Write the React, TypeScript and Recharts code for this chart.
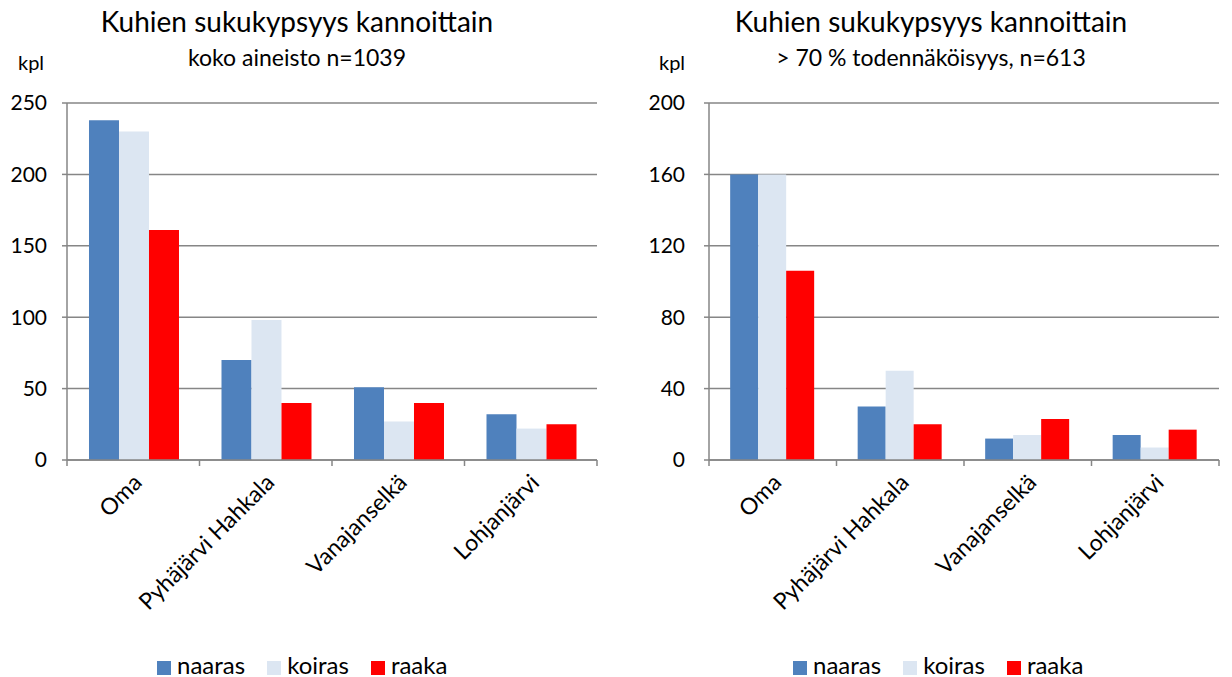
import { Bar, BarChart, CartesianGrid, Legend, XAxis, YAxis } from 'recharts'

const categories = ['Oma', 'Pyhäjärvi Hahkala', 'Vanajanselkä', 'Lohjanjärvi']
const seriesOrder = ['naaras', 'koiras', 'raaka']

// koko aineisto n=1039
const allNaaras = [238, 70, 51, 32]
const allKoiras = [230, 98, 27, 22]
const allRaaka = [161, 40, 40, 25]
const allTicks = [0, 50, 100, 150, 200, 250]

// > 70 % todennäköisyys, n=613
const probNaaras = [160, 30, 12, 14]
const probKoiras = [160, 50, 14, 7]
const probRaaka = [106, 20, 23, 17]
const probTicks = [0, 40, 80, 120, 160, 200]

const COLORS = {
  naaras: '#4f81bd',
  koiras: '#dce6f2',
  raaka: '#ff0000',
  axis: '#868686',
} as const

const FONT = 'Lato, "Open Sans", sans-serif'

function buildRows(n: number[], k: number[], r: number[]) {
  return categories.map((name, i) => ({
    name,
    naaras: n[i],
    koiras: k[i],
    raaka: r[i],
  }))
}

// Excel style: tick marks sit between categories, labels at 45 degrees
function CategoryTick(props: any) {
  const { x, y, payload, index, visibleTicksCount } = props
  const half = payload?.offset ?? 66
  const last = index === visibleTicksCount - 1
  const ax = x + 10
  const ay = y + 24
  return (
    <g>
      <line x1={x - half} x2={x - half} y1={y} y2={y + 6} stroke={COLORS.axis} strokeWidth={1.5} />
      {last && (
        <line x1={x + half} x2={x + half} y1={y} y2={y + 6} stroke={COLORS.axis} strokeWidth={1.5} />
      )}
      <text
        x={ax}
        y={ay}
        textAnchor="end"
        fontSize={23}
        fontFamily={FONT}
        fill="#000"
        transform={`rotate(-45 ${ax} ${ay})`}
      >
        {payload.value}
      </text>
    </g>
  )
}

type PanelProps = {
  left: number
  title: string
  subtitle: string
  titleCenter: number
  kplX: number
  legendLeft: number
  rows: ReturnType<typeof buildRows>
  ticks: number[]
  marginLeft: number
  marginRight: number
  tickMargin: number
}

function Panel(p: PanelProps) {
  const max = p.ticks[p.ticks.length - 1]
  return (
    <div style={{ position: 'absolute', left: p.left, top: 0, width: 616, height: 677 }}>
      <div
        style={{
          position: 'absolute',
          left: p.titleCenter - 300,
          width: 600,
          top: 4,
          textAlign: 'center',
          fontFamily: FONT,
          fontSize: 28,
          lineHeight: '34px',
          color: '#000',
        }}
      >
        {p.title}
      </div>
      <div
        style={{
          position: 'absolute',
          left: p.titleCenter - 300,
          width: 600,
          top: 42,
          textAlign: 'center',
          fontFamily: FONT,
          fontSize: 23,
          lineHeight: '30px',
          color: '#000',
        }}
      >
        {p.subtitle}
      </div>
      <div
        style={{
          position: 'absolute',
          left: p.kplX,
          top: 50,
          fontFamily: FONT,
          fontSize: 20,
          lineHeight: '24px',
          color: '#000',
        }}
      >
        kpl
      </div>
      <BarChart
        width={616}
        height={677}
        data={p.rows}
        margin={{ top: 103, right: p.marginRight, left: p.marginLeft, bottom: 8 }}
        barCategoryGap="16.6%"
        barGap={0}
      >
        <CartesianGrid vertical={false} stroke={COLORS.axis} strokeWidth={1.5} />
        <XAxis
          dataKey="name"
          interval={0}
          height={179}
          tickSize={0}
          tickMargin={0}
          tickLine={false}
          axisLine={{ stroke: COLORS.axis, strokeWidth: 1.5 }}
          tick={<CategoryTick />}
        />
        <YAxis
          width={60}
          domain={[0, max]}
          ticks={p.ticks}
          interval={0}
          tickSize={5}
          tickMargin={p.tickMargin}
          axisLine={{ stroke: COLORS.axis, strokeWidth: 1.5 }}
          tickLine={{ stroke: COLORS.axis, strokeWidth: 1.5 }}
          tick={{ fontSize: 21, fontFamily: FONT, fill: '#000' }}
        />
        <Legend
          verticalAlign="bottom"
          iconType="square"
          iconSize={14}
          itemSorter={(item: any) => seriesOrder.indexOf(item.dataKey)}
          wrapperStyle={{
            fontFamily: FONT,
            fontSize: 24,
            height: 30,
            lineHeight: '30px',
            top: 650,
            left: p.legendLeft,
            width: 'auto',
          }}
          formatter={(v) => (
            <span style={{ color: '#000', marginLeft: 2, marginRight: 12 }}>{v}</span>
          )}
        />
        <Bar dataKey="naaras" fill={COLORS.naaras} isAnimationActive={false} />
        <Bar dataKey="koiras" fill={COLORS.koiras} isAnimationActive={false} />
        <Bar dataKey="raaka" fill={COLORS.raaka} isAnimationActive={false} />
      </BarChart>
    </div>
  )
}

export default function App() {
  return (
    <div style={{ position: 'absolute', left: 0, top: 0, width: 1232, height: 677, background: '#fff' }}>
      <Panel
        left={0}
        title="Kuhien sukukypsyys kannoittain"
        subtitle="koko aineisto n=1039"
        titleCenter={297}
        kplX={18}
        legendLeft={157}
        rows={buildRows(allNaaras, allKoiras, allRaaka)}
        ticks={allTicks}
        marginLeft={7}
        marginRight={19}
        tickMargin={15}
      />
      <Panel
        left={616}
        title="Kuhien sukukypsyys kannoittain"
        subtitle="> 70 % todennäköisyys, n=613"
        titleCenter={315}
        kplX={43}
        legendLeft={177}
        rows={buildRows(probNaaras, probKoiras, probRaaka)}
        ticks={probTicks}
        marginLeft={33}
        marginRight={13}
        tickMargin={19}
      />
    </div>
  )
}
